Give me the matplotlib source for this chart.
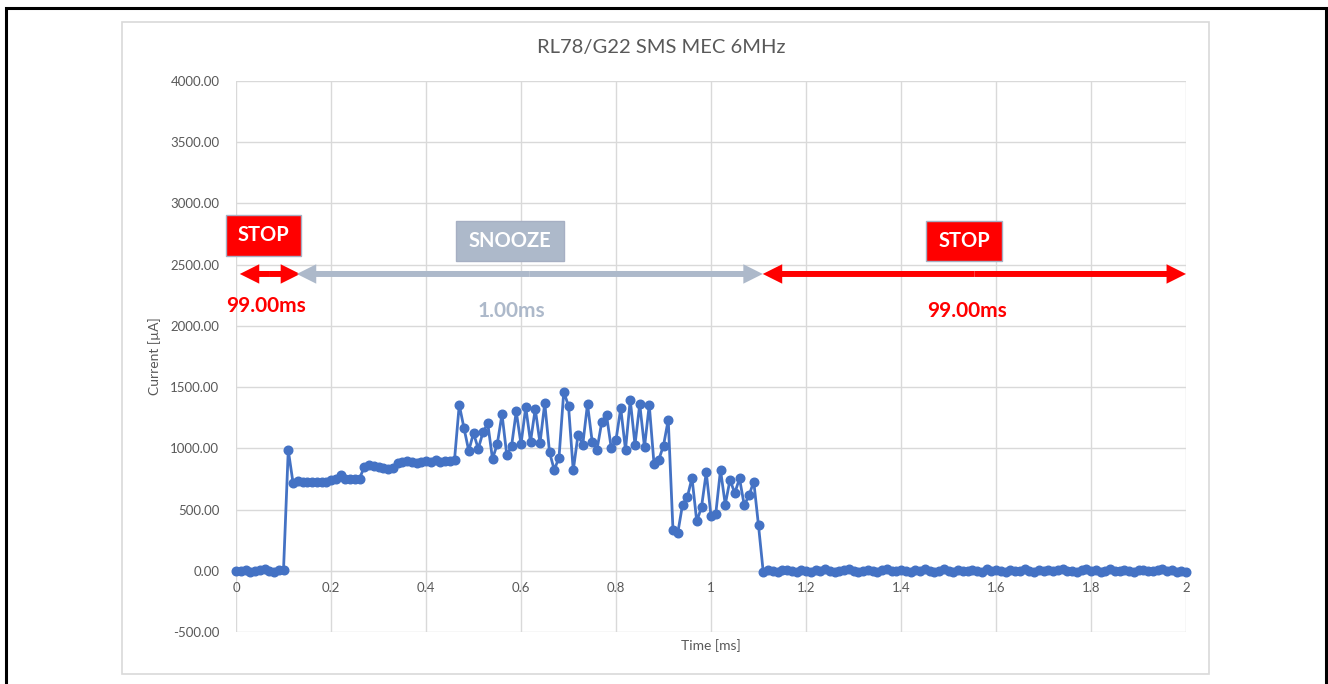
import numpy as np
import matplotlib
matplotlib.use("Agg")
import matplotlib.pyplot as plt
from matplotlib.patches import Rectangle, FancyArrowPatch
from matplotlib.ticker import FuncFormatter, MultipleLocator

plt.rcParams['font.family'] = ['Lato', 'DejaVu Sans']

# current samples, one every 0.01 ms
stop_before = [0, -5, 8, -10, -3, 5, 12, -5, -12, 6, 4]
wake_spike = [985]
step_low = [720, 737, 729, 721, 729, 725, 725, 729, 740, 748, 780, 751, 748, 748, 751]
step_mid = [850, 862, 858, 851, 838, 830, 840, 880, 892, 895, 890, 884, 892, 900,
            892, 905, 892, 900, 900, 905]
busy = [1355, 1165, 980, 1124, 996, 1132, 1203, 914, 1034, 1279, 947, 1015, 1301, 1034,
        1336, 1053, 1322, 1042, 1369, 969, 824, 925, 1461, 1347, 819, 1110, 1029, 1361,
        1050, 990, 1214, 1271, 1003, 1069, 1328, 988, 1396, 1029, 1361, 1010, 1355, 873,
        906, 1023, 1233, 329, 307, 539, 599, 759, 403, 520, 803, 449, 465, 824, 541, 743,
        634, 754, 536, 615, 729, 370, -11]
stop_after = [5, 0, -8, 3, 10, -2, -6, 4, 0, -10,
              6, 2, 12, -4, -8, 0, 5, 14, -3, -10,
              2, 6, 0, -7, 4, 16, -5, -2, 8, 0,
              -9, 3, -4, 11, 2, -6, 0, 15, -3, -8,
              5, 1, -2, 9, 0, -7, 12, -5, 3, 0,
              -6, 8, 2, -4, 13, -2, -9, 4, 0, 6,
              -3, 10, 17, -5, 0, -8, 3, 15, -2, 5,
              -6, 0, 14, -4, 2, 8, -3, -7, 4, 10,
              0, -5, 6, 12, -2, 3, -6, 0, -8]

current = np.array(stop_before + wake_spike + step_low + step_mid + busy + stop_after, dtype=float)
sample_step = 0.01
time_ms = np.arange(len(current)) * sample_step

red = "#FF0000"
slate = "#ADB9CA"
blue = "#4472C4"
grid_c = "#D9D9D9"
txt_c = "#595959"

fig = plt.figure(figsize=(13.28, 6.84), dpi=100)
ax = fig.add_axes([236 / 1328, 1 - 632 / 684, 950 / 1328, 551 / 684])

ax.plot(time_ms, current, color=blue, lw=2.0, marker='o', ms=6.2, clip_on=False, zorder=3)

ax.set_xlim(0, 2)
ax.set_ylim(-500, 4000)
ax.xaxis.set_major_locator(MultipleLocator(0.2))
ax.yaxis.set_major_locator(MultipleLocator(500))
ax.xaxis.set_major_formatter(FuncFormatter(lambda v, p: f"{v:g}"))
ax.yaxis.set_major_formatter(FuncFormatter(lambda v, p: f"{v:.2f}"))
ax.grid(True, color=grid_c, lw=1.0)
ax.set_axisbelow(True)
for s in ['top', 'right', 'left']:
    ax.spines[s].set_visible(False)
ax.spines['bottom'].set_position(('data', 0))
ax.spines['bottom'].set_color(grid_c)
ax.tick_params(length=0, labelsize=9.5, labelcolor=txt_c)
ax.tick_params(axis='x', pad=8)
ax.tick_params(axis='y', pad=12)

ax.set_xlabel("Time [ms]", fontsize=10, color=txt_c)
ax.xaxis.set_label_coords(0.5, -0.012)
ax.xaxis.label.set_va('top')
ax.set_ylabel("Current [µA]", fontsize=10, color=txt_c)
ax.yaxis.set_label_coords(-0.079, 0.5)

fig.text(661 / 1328, 1 - 47 / 684, "RL78/G22 SMS MEC 6MHz", fontsize=14.5, color=txt_c,
         ha='center', va='center')

# phase arrows
arrow_y = 2424
specs = [(0.008, 0.135, red), (0.128, 1.109, slate), (1.109, 2.0, red)]
for x0, x1, c in specs:
    mid = (x0 + x1) / 2
    for end in (x0, x1):
        ax.add_patch(FancyArrowPatch((mid, arrow_y), (end, arrow_y),
                                     arrowstyle="simple,head_length=14,head_width=14,tail_width=4.3",
                                     mutation_scale=1, color=c, lw=0, shrinkA=0, shrinkB=0,
                                     clip_on=False, zorder=4))

# labelled boxes
boxes = [(-0.021, 0.136, 2571, 2906, red, "STOP"),
         (0.464, 0.690, 2531, 2857, slate, "SNOOZE"),
         (1.453, 1.613, 2531, 2857, red, "STOP")]
for x0, x1, y0, y1, c, label in boxes:
    ax.add_patch(Rectangle((x0, y0), x1 - x0, y1 - y0, facecolor=c, edgecolor="#A6AFC3",
                           lw=1.0, clip_on=False, zorder=4))
    ax.text((x0 + x1) / 2, (y0 + y1) / 2, label, color="white", fontsize=14.5,
            fontweight='bold', ha='center', va='center', zorder=5)

durations = [(0.063, 2163, red, "99.00ms"),
             (0.58, 2122, slate, "1.00ms"),
             (1.538, 2122, red, "99.00ms")]
for x, y, c, s in durations:
    ax.text(x, y, s, color=c, fontsize=15, fontweight='bold', ha='center', va='center', zorder=5)

# chart area frame and outer frame
fig.add_artist(Rectangle((122 / 1328, 1 - 674 / 684), (1209 - 122) / 1328, (674 - 22) / 684,
                         transform=fig.transFigure, fill=False, edgecolor=grid_c, lw=1.2))
fig.add_artist(Rectangle((5.5 / 1328, -0.05), (1326 - 5.5) / 1328, 1.05 - 8 / 684,
                         transform=fig.transFigure, fill=False, edgecolor="black", lw=2.2))

fig.savefig("out.png", dpi=100)
